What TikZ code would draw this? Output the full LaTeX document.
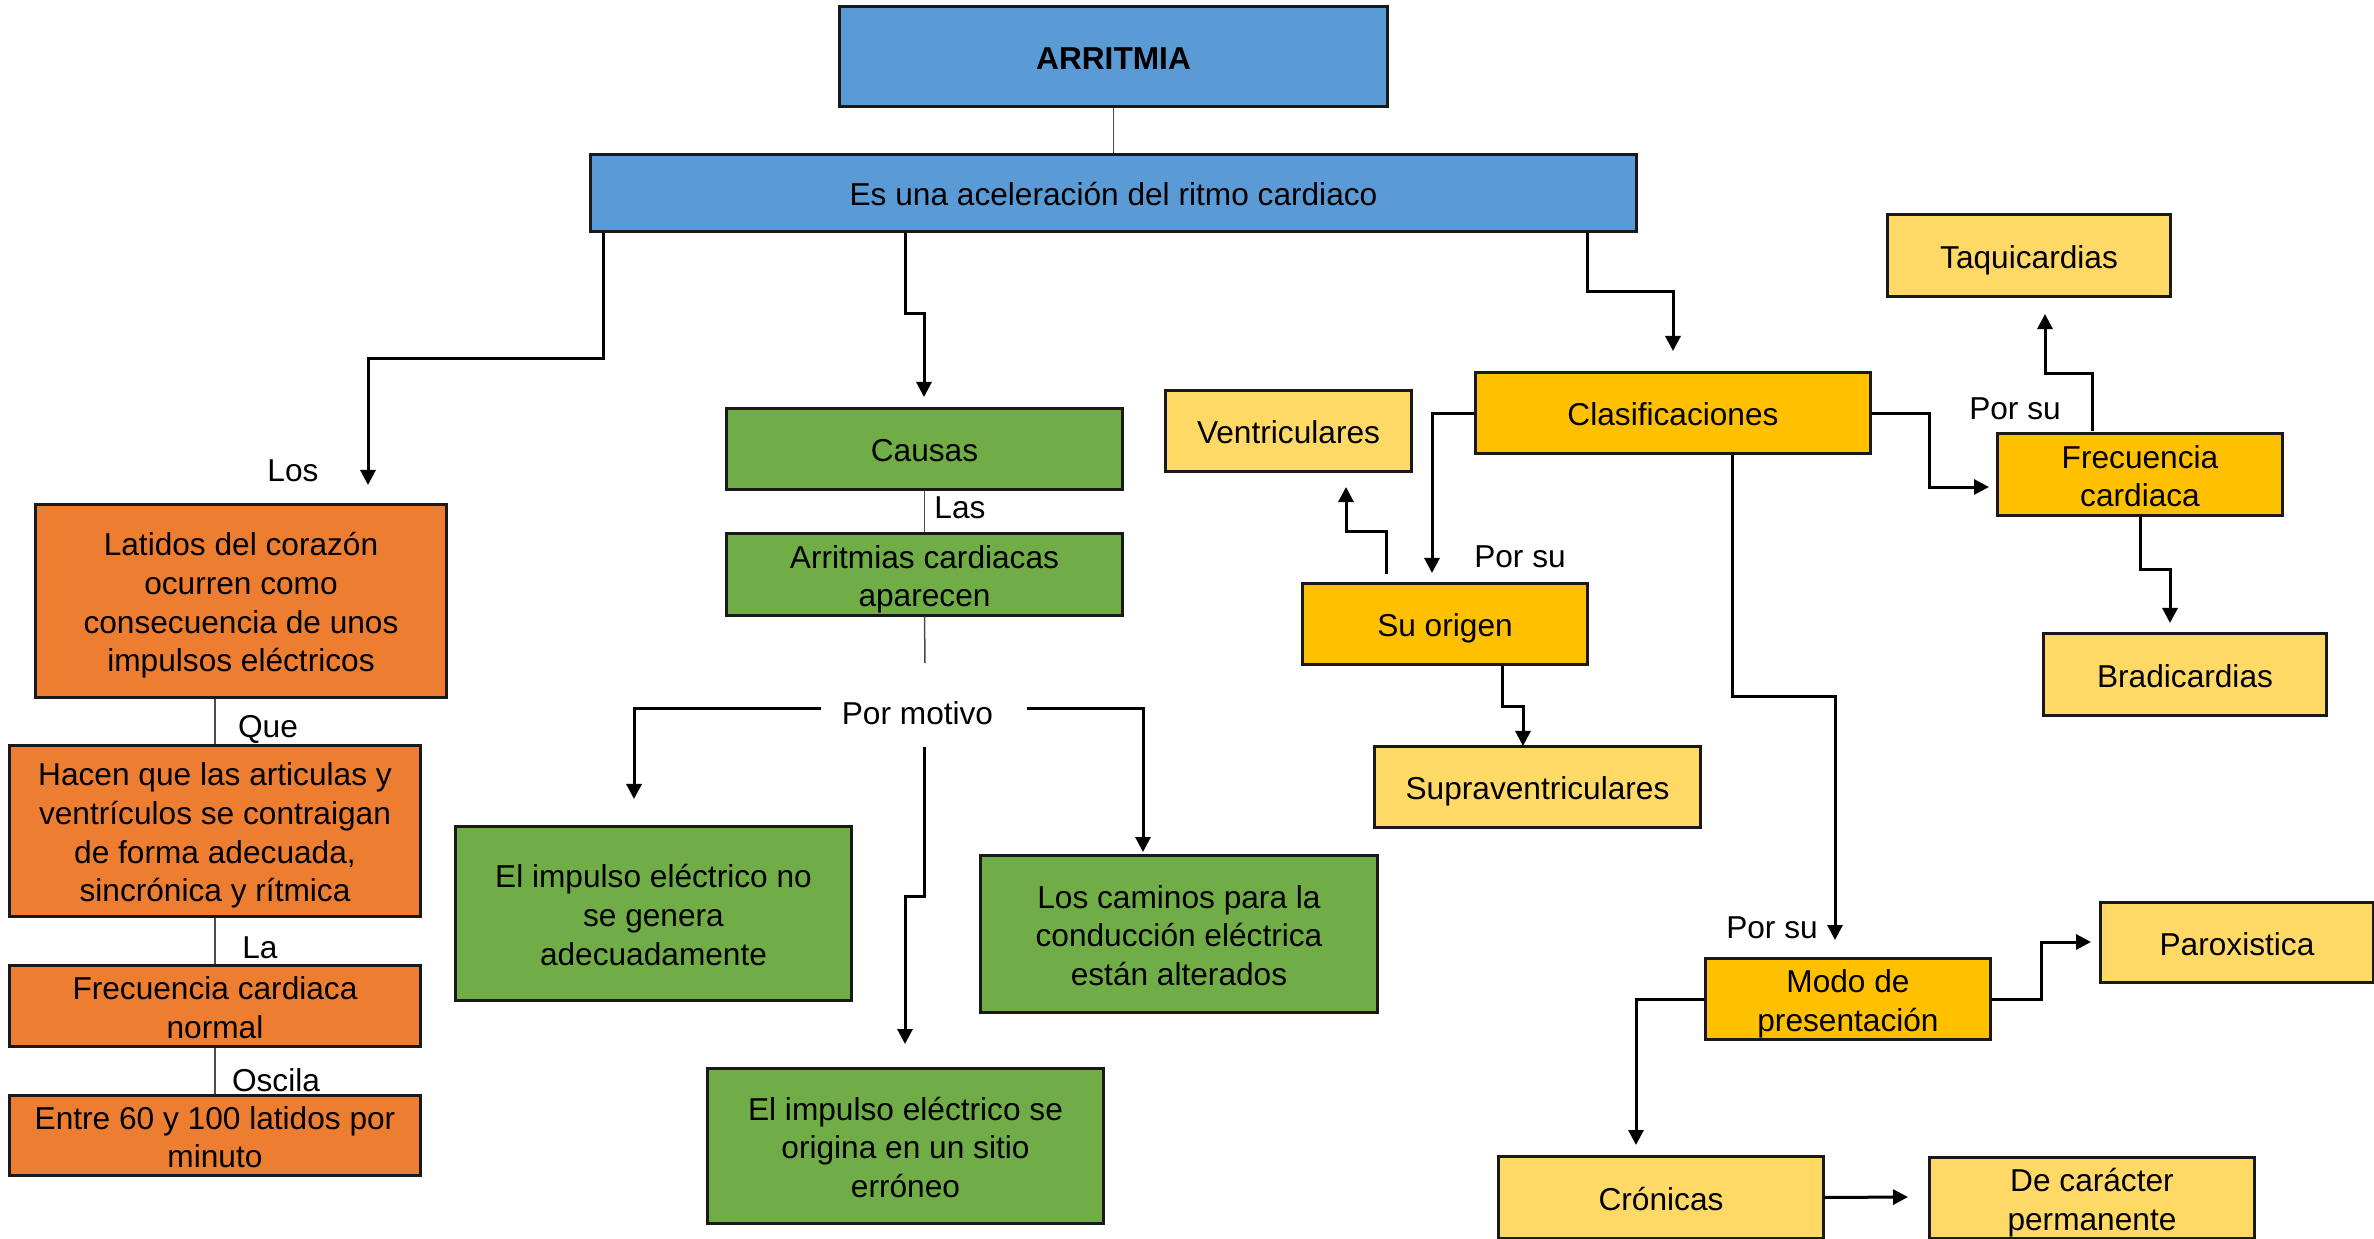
\documentclass[tikz,border=0pt]{standalone}
\usepackage{fontspec}
\setmainfont{Liberation Sans}
\usetikzlibrary{arrows.meta}
\definecolor{cblue}{HTML}{5B9BD5}
\definecolor{cgreen}{HTML}{70AD47}
\definecolor{corange}{HTML}{ED7D31}
\definecolor{cgold}{HTML}{FFC000}
\definecolor{clight}{HTML}{FFD966}
\begin{document}
\begin{tikzpicture}[x=0.01cm,y=-0.01cm,
  font=\fontsize{9}{11}\selectfont,
  box/.style={draw=black!90, line width=0.03cm, inner sep=0pt, align=center},
  bluebox/.style={box, fill=cblue},
  greenbox/.style={box, fill=cgreen},
  orangebox/.style={box, fill=corange},
  goldbox/.style={box, fill=cgold},
  lightbox/.style={box, fill=clight},
  oneline/.style={text height=7.3pt, text depth=0pt},
  twolines/.style={text height=18.3pt, text depth=0pt},
  threelines/.style={text height=29.3pt, text depth=0pt},
  fourlines/.style={text height=40.3pt, text depth=0pt},
  conn/.style={line width=0.03cm, -{Triangle[length=0.15cm,width=0.15cm]}},
  thinline/.style={line width=0.015cm, draw=black!70},
  lbl/.style={inner sep=0pt}]
\useasboundingbox (0,0) rectangle (2374,1239);

% blue
\node[bluebox, oneline, minimum width=5.47cm, minimum height=0.99cm, font=\fontsize{9}{11}\selectfont\bfseries] (arr) at (1113.5,56.5) {ARRITMIA};
\node[bluebox, oneline, minimum width=10.45cm, minimum height=0.76cm] (def) at (1113.5,193) {Es una aceleración del ritmo cardiaco};

% orange column
\node[orangebox, fourlines, minimum width=4.10cm, minimum height=1.93cm] (latidos) at (241,601) {Latidos del corazón\\ocurren como\\consecuencia de unos\\impulsos eléctricos};
\node[orangebox, fourlines, minimum width=4.10cm, minimum height=1.70cm] (hacen) at (215,831) {Hacen que las articulas y\\ventrículos se contraigan\\de forma adecuada,\\sincrónica y rítmica};
\node[orangebox, twolines, minimum width=4.10cm, minimum height=0.80cm] (fnormal) at (215,1006) {Frecuencia cardiaca\\normal};
\node[orangebox, twolines, minimum width=4.10cm, minimum height=0.79cm] (entre) at (215,1135.5) {Entre 60 y 100 latidos por\\minuto};

% green
\node[greenbox, oneline, minimum width=3.95cm, minimum height=0.80cm] (causas) at (924.5,449) {Causas};
\node[greenbox, twolines, minimum width=3.95cm, minimum height=0.81cm] (aparecen) at (924.5,574.5) {Arritmias cardiacas\\aparecen};
\node[greenbox, threelines, minimum width=3.95cm, minimum height=1.73cm] (genera) at (653.5,913.5) {El impulso eléctrico no\\se genera\\adecuadamente};
\node[greenbox, threelines, minimum width=3.96cm, minimum height=1.56cm] (caminos) at (1179,934) {Los caminos para la\\conducción eléctrica\\están alterados};
\node[greenbox, threelines, minimum width=3.95cm, minimum height=1.54cm] (erroneo) at (905.5,1146) {El impulso eléctrico se\\origina en un sitio\\erróneo};

% gold
\node[goldbox, oneline, minimum width=3.94cm, minimum height=0.80cm] (clasif) at (1673,413) {Clasificaciones};
\node[lightbox, oneline, minimum width=2.45cm, minimum height=0.80cm] (ventr) at (1288.5,431) {Ventriculares};
\node[goldbox, oneline, minimum width=2.84cm, minimum height=0.80cm] (origen) at (1445,624) {Su origen};
\node[lightbox, oneline, minimum width=3.25cm, minimum height=0.80cm] (supra) at (1537.5,787) {Supraventriculares};
\node[lightbox, oneline, minimum width=2.82cm, minimum height=0.81cm] (taqui) at (2029,255.5) {Taquicardias};
\node[goldbox, twolines, minimum width=2.84cm, minimum height=0.81cm] (frec) at (2140,474.5) {Frecuencia\\cardiaca};
\node[lightbox, oneline, minimum width=2.82cm, minimum height=0.81cm] (bradi) at (2185,674.5) {Bradicardias};
\node[goldbox, twolines, minimum width=2.84cm, minimum height=0.80cm] (modo) at (1848,999) {Modo de\\presentación};
\node[lightbox, oneline, minimum width=2.72cm, minimum height=0.79cm] (parox) at (2237,942.5) {Paroxistica};
\node[lightbox, oneline, minimum width=3.24cm, minimum height=0.81cm] (cronicas) at (1661,1197.5) {Crónicas};
\node[lightbox, twolines, minimum width=3.24cm, minimum height=0.80cm] (caracter) at (2092,1198) {De carácter\\permanente};

% labels
\node[lbl] (lLos) at (293,471) {Los};
\node[lbl] (lQue) at (268,729) {Que};
\node[lbl] (lLa) at (260,948) {La};
\node[lbl] (lOscila) at (276,1080) {Oscila};
\node[lbl] (lLas) at (960,508) {Las};
\node[lbl] (pm) at (917.5,713) {Por motivo};
\node[lbl] (ps1) at (1520,557) {Por su};
\node[lbl] (ps2) at (2015,409) {Por su};
\node[lbl] (ps3) at (1772,928) {Por su};

% free ends
\coordinate (tLat) at (368,485);
\coordinate (tCau) at (924,397);
\coordinate (tCla) at (1673,351);
\coordinate (apEnd) at (925,663);
\coordinate (pmL) at (821,708);
\coordinate (pmR) at (1027,708);
\coordinate (pmM) at (924,747);
\coordinate (tGen) at (634,799);
\coordinate (tCam) at (1143,852);
\coordinate (tErr) at (905,1044);
\coordinate (tOri) at (1432,573);
\coordinate (sOri) at (1386,574);
\coordinate (tVen) at (1346,487);
\coordinate (tSup) at (1523,746);
\coordinate (tModo) at (1835,940);
\coordinate (tFrec) at (1989,487);
\coordinate (sFrec) at (2092,431);
\coordinate (tTaq) at (2045,314);
\coordinate (tBra) at (2170,623);
\coordinate (tCro) at (1636,1145);
\coordinate (tPar) at (2091,942);
\coordinate (tCar) at (1908,1197);

% thin connectors
\draw[thinline] (arr.south) -- (def.north);
\draw[thinline] (causas.south) -- (aparecen.north);
\draw[thinline] (aparecen.south) -- (apEnd);
\draw[thinline] (215,0 |- latidos.south) -- (hacen.north);
\draw[thinline] (hacen.south) -- (fnormal.north);
\draw[thinline] (fnormal.south) -- (entre.north);

% arrows
\draw[conn] (603,0 |- def.south) |- (368,358) -- (tLat);
\draw[conn] (905,0 |- def.south) |- (924,313) -- (tCau);
\draw[conn] (1587,0 |- def.south) |- (1673,291) -- (tCla);
\draw[conn] (pmL) -| (tGen);
\draw[conn] (pmR) -| (tCam);
\draw[conn] (pmM) |- (905,896) -- (tErr);
\draw[conn] (clasif.west) -| (tOri);
\draw[conn] (sOri) |- (1346,531) -- (tVen);
\draw[conn] (1502,0 |- origen.south) |- (1523,706) -- (tSup);
\draw[conn] (1732,0 |- clasif.south) |- (1835,696) -- (tModo);
\draw[conn] (clasif.east) -| (1929,487) -- (tFrec);
\draw[conn] (sFrec) |- (2045,373) -- (tTaq);
\draw[conn] (frec.south) |- (2170,569) -- (tBra);
\draw[conn] (modo.west) -| (tCro);
\draw[conn] (modo.east) -| (2041,942) -- (tPar);
\draw[conn] (cronicas.east) -- (tCar);
\end{tikzpicture}
\end{document}
